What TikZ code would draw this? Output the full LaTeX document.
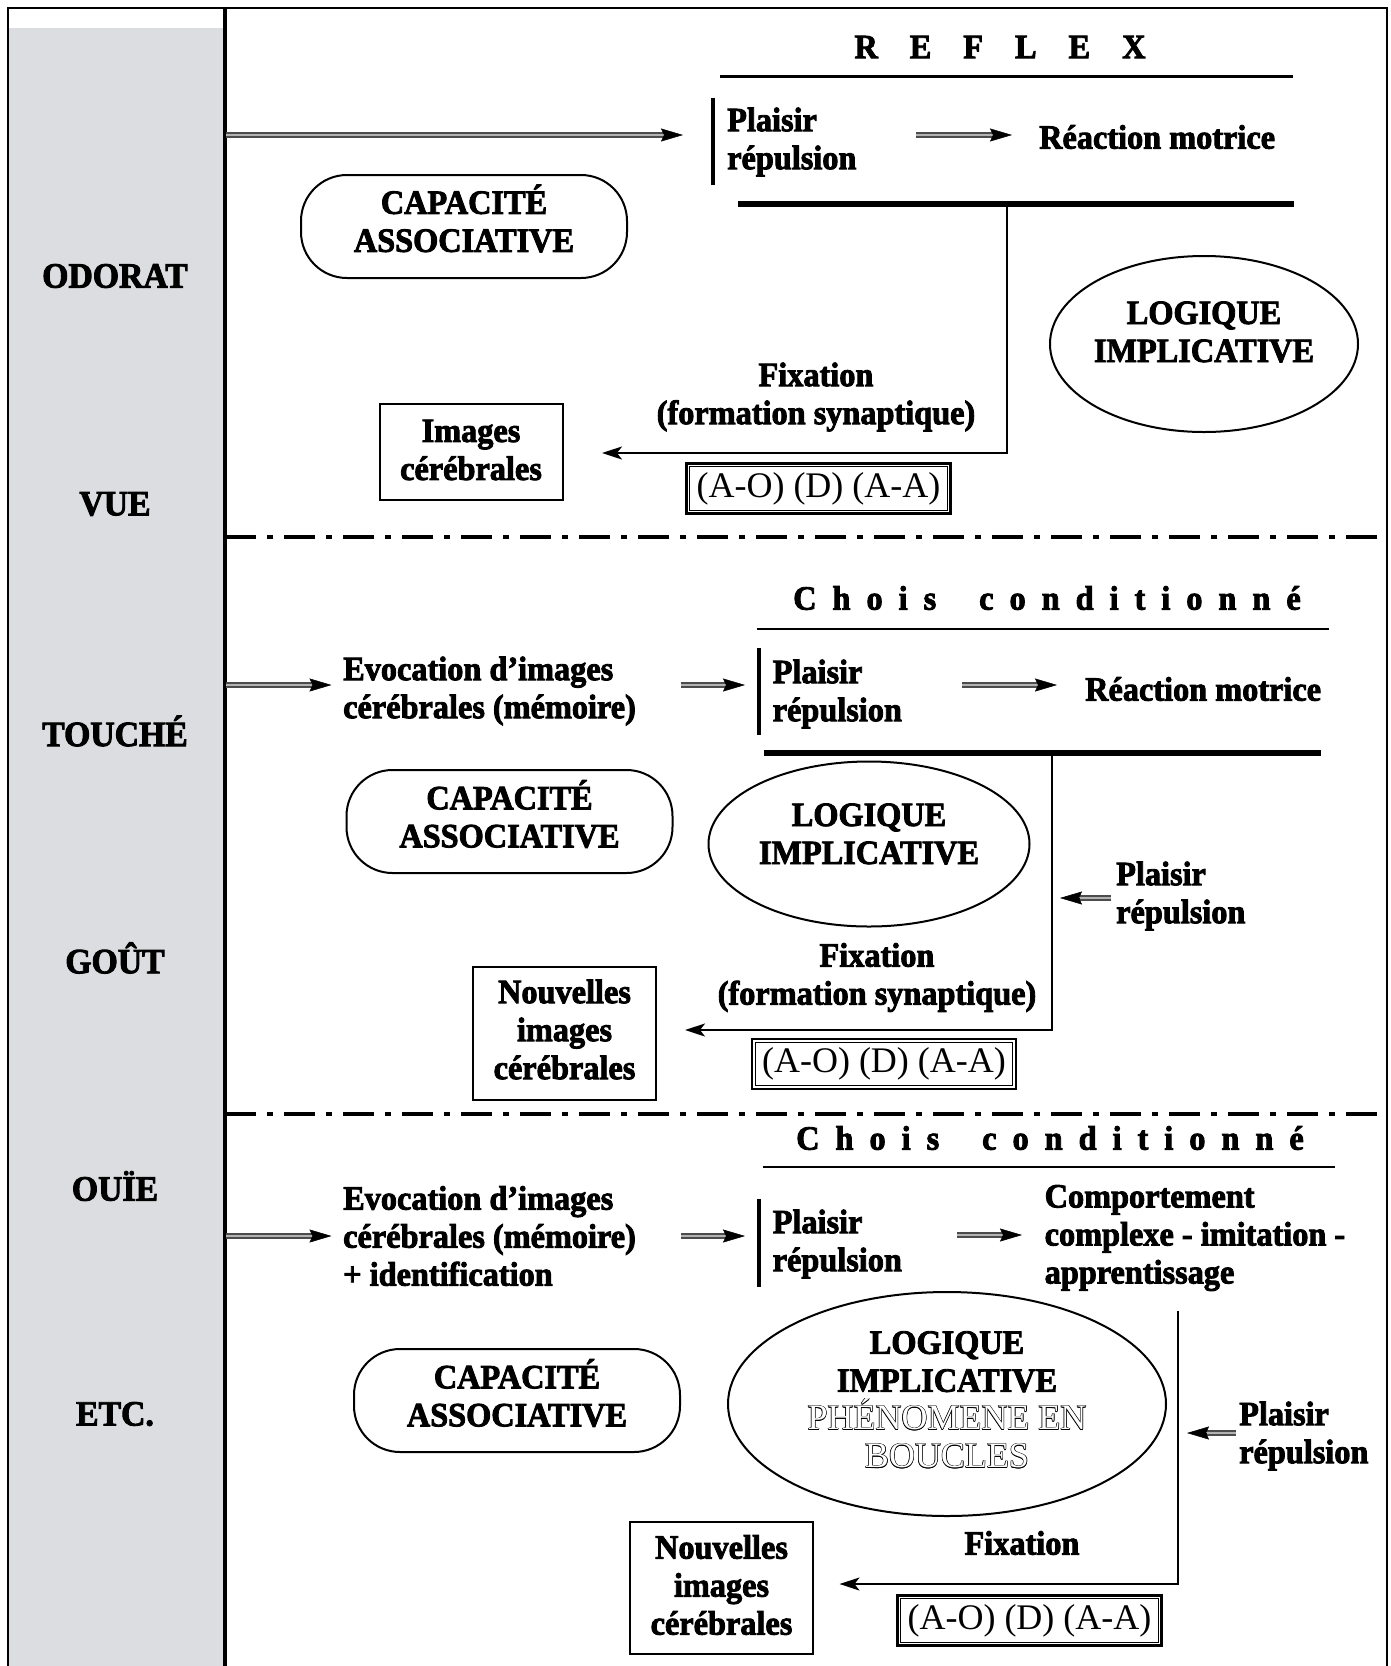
\documentclass[tikz,border=0pt]{standalone}
\usepackage{fontspec}
\newfontfamily\condfont[FakeStretch=0.95, BoldFeatures={FakeBold=2.5}]{Liberation Serif}
\newfontfamily\regfont{Liberation Serif}
\usetikzlibrary{arrows.meta,calc,shapes.geometric}
\definecolor{colgray}{RGB}{220,221,224}
\newsavebox\hollowbx
\newcommand\hollow[1]{\sbox\hollowbx{#1}%
  \rlap{\kern0.65pt\usebox\hollowbx}\rlap{\kern-0.65pt\usebox\hollowbx}%
  \rlap{\raisebox{0.65pt}{\usebox\hollowbx}}\rlap{\raisebox{-0.65pt}{\usebox\hollowbx}}%
  \rlap{\kern0.46pt\raisebox{0.46pt}{\usebox\hollowbx}}\rlap{\kern-0.46pt\raisebox{0.46pt}{\usebox\hollowbx}}%
  \rlap{\kern0.46pt\raisebox{-0.46pt}{\usebox\hollowbx}}\rlap{\kern-0.46pt\raisebox{-0.46pt}{\usebox\hollowbx}}%
  \textcolor{white}{#1}}
\newcommand\gp{\hspace{16pt}}
\newcommand\gw{\hspace{43pt}}
\newcommand\gr{\hspace{32pt}}
\newcommand\dblarrow[3]{%
  \draw[shaft] (#1) -- ($(#2)+({-17*(#3)},0)$);
  \draw[tipline] ($(#2)+({-19*(#3)},0)$) -- (#2);}

\begin{document}
\begin{tikzpicture}[x=1pt,y=-1pt,
  lbl/.style={font=\condfont\bfseries\fontsize{34}{38}\selectfont, inner sep=0pt},
  side/.style={font=\condfont\bfseries\fontsize{35.5}{38}\selectfont, inner sep=0pt},
  txtl/.style={lbl, align=left, anchor=west},
  txtc/.style={lbl, align=center},
  capbox/.style={draw, line width=2pt, rounded corners=46pt, minimum width=326pt, minimum height=103pt, inner sep=0pt},
  ellbox/.style={draw, ellipse, line width=2pt, inner sep=0pt},
  imgbox/.style={draw, line width=2pt, minimum width=183pt, inner sep=0pt},
  codebox/.style={font=\regfont\fontsize{36}{40}\selectfont, draw, line width=2.8pt, minimum width=264pt, minimum height=50pt, inner sep=0pt},
  innerframe/.style={line width=0.9pt},
  rulethin/.style={line width=2.5pt},
  ruleheavy/.style={line width=5.5pt},
  vbar/.style={line width=4.5pt},
  conn/.style={line width=2pt, -{Stealth[length=20pt,width=13pt,inset=5pt]}},
  shaft/.style={line width=1.5pt, draw=black!70, double=black!30, double distance=2.5pt},
  tipline/.style={line width=0.5pt, -{Stealth[length=22pt,width=13pt,inset=3pt]}},
  dashdot/.style={line width=4pt, dash pattern=on 31pt off 11pt on 6pt off 11pt}
]
\useasboundingbox (0,0) rectangle (1391,1666);
% frame and grey column
\fill[colgray] (8,28) rectangle (225,1666);
\draw[line width=2.5pt] (8,1666) -- (8,8) -- (1387,8) -- (1387,1666);
\draw[line width=4pt] (225,8) -- (225,1666);

% left labels
\node[side] (odorat) at (115,276) {ODORAT};
\node[side] (vue) at (115,504) {VUE};
\node[side] (touche) at (115,731) {TOUCHÉ};
\node[side] (gout) at (115,958) {GOÛT};
\node[side] (ouie) at (115,1186) {OUÏE};
\node[side] (etc) at (115,1414) {ETC.};

% separators
\coordinate (sepAl) at (225,537); \coordinate (sepAr) at (1387,537);
\coordinate (sepBl) at (225,1114); \coordinate (sepBr) at (1387,1114);
\draw[dashdot] (sepAl) -- (sepAr);
\draw[dashdot] (sepBl) -- (sepBr);

% ===== section 1 =====
\node[lbl] (reflex) at (1000,47) {R\gr E\gr F\gr L\gr E\gr X};
\draw[rulethin] (720,76.5) -- (1293,76.5);
\coordinate (a1s) at (226,135); \coordinate (a1e) at (683,135);
\dblarrow{a1s}{a1e}{1}
\draw[vbar] (713,98) -- (713,185);
\node[txtl] (pr1) at (727,142) {Plaisir\\répulsion};
\coordinate (b1s) at (916,135); \coordinate (b1e) at (1012,135);
\dblarrow{b1s}{b1e}{1}
\node[txtl] (rm1) at (1039,137) {Réaction motrice};
\draw[ruleheavy] (738,204) -- (1294,204);
\node[capbox] (cap1) at (464,226.5) {};
\node[txtc] (cap1t) at (464,218.5) {CAPACITÉ\\ASSOCIATIVE};
\node[ellbox, minimum width=308pt, minimum height=176pt] (ell1) at (1204,344) {};
\node[txtc] (ell1t) at (1204,332) {LOGIQUE\\IMPLICATIVE};
\node[txtc] (fix1) at (816,397) {Fixation\\(formation synaptique)};
\node[imgbox, minimum height=96pt] (img1) at (471,452) {};
\node[txtc] (img1t) at (471,450) {Images\\cérébrales};
\node[codebox] (code1) at (818.5,488.5) {(A-O) (D) (A-A)};
\draw[innerframe] ($(code1.north west)+(4.5,4.5)$) rectangle ($(code1.south east)+(-4.5,-4.5)$);
\coordinate (c1a) at (1007,204); \coordinate (c1b) at (602,453);
\draw[conn] (c1a) |- (c1b);

% ===== section 2 =====
\node[lbl] (choix1) at (1047,598) {C\gp h\gp o\gp i\gp s\gw c\gp o\gp n\gp d\gp i\gp t\gp i\gp o\gp n\gp n\gp é};
\draw[rulethin] (757,629) -- (1329,629);
\coordinate (a2s) at (226,685); \coordinate (a2e) at (331.5,685);
\dblarrow{a2s}{a2e}{1}
\node[txtl] (evo2) at (343,691) {Evocation d’images\\cérébrales (mémoire)};
\coordinate (b2s) at (681,685); \coordinate (b2e) at (745,685);
\dblarrow{b2s}{b2e}{1}
\draw[vbar] (759,648) -- (759,735);
\node[txtl] (pr2) at (772.5,694) {Plaisir\\répulsion};
\coordinate (d2s) at (962,685); \coordinate (d2e) at (1057,685);
\dblarrow{d2s}{d2e}{1}
\node[txtl] (rm2) at (1085,689) {Réaction motrice};
\draw[ruleheavy] (764,753) -- (1321,753);
\node[capbox] (cap2) at (509.5,821.5) {};
\node[txtc] (cap2t) at (509.5,814) {CAPACITÉ\\ASSOCIATIVE};
\node[ellbox, minimum width=321pt, minimum height=165pt] (ell2) at (869,844) {};
\node[txtc] (ell2t) at (869,834) {LOGIQUE\\IMPLICATIVE};
\coordinate (p2s) at (1111,898); \coordinate (p2e) at (1060,898);
\dblarrow{p2s}{p2e}{-1}
\node[txtl] (pr2b) at (1116,896) {Plaisir\\répulsion};
\node[txtc] (fix2) at (877,977.5) {Fixation\\(formation synaptique)};
\node[imgbox, minimum height=133pt] (nouv2) at (564.5,1033.5) {};
\node[txtc] (nouv2t) at (564.5,1029.5) {Nouvelles\\images\\cérébrales};
\node[codebox] (code2) at (884,1064) {(A-O) (D) (A-A)};
\draw[innerframe] ($(code2.north west)+(4.5,4.5)$) rectangle ($(code2.south east)+(-4.5,-4.5)$);
\coordinate (c2a) at (1052,753); \coordinate (c2b) at (685,1030);
\draw[conn] (c2a) |- (c2b);

% ===== section 3 =====
\node[lbl] (choix2) at (1050,1138) {C\gp h\gp o\gp i\gp s\gw c\gp o\gp n\gp d\gp i\gp t\gp i\gp o\gp n\gp n\gp é};
\draw[rulethin] (763,1167) -- (1335,1167);
\coordinate (a3s) at (226,1236); \coordinate (a3e) at (331.5,1236);
\dblarrow{a3s}{a3e}{1}
\node[txtl] (evo3) at (343,1236) {Evocation d’images\\cérébrales (mémoire)\\+ identification};
\coordinate (b3s) at (681,1236); \coordinate (b3e) at (745,1236);
\dblarrow{b3s}{b3e}{1}
\draw[vbar] (759,1199) -- (759,1287);
\node[txtl] (pr3) at (772.5,1244) {Plaisir\\répulsion};
\coordinate (d3s) at (957,1235); \coordinate (d3e) at (1022,1235);
\dblarrow{d3s}{d3e}{1}
\node[txtl] (comp3) at (1044.5,1238) {Comportement\\complexe - imitation -\\apprentissage};
\node[capbox] (cap3) at (517,1400.5) {};
\node[txtc] (cap3t) at (517,1393) {CAPACITÉ\\ASSOCIATIVE};
\node[ellbox, minimum width=438pt, minimum height=224pt] (ell3) at (947,1404) {};
\node[txtc] (ell3t) at (947,1400) {LOGIQUE\\IMPLICATIVE\\{\regfont\mdseries\fontsize{36}{38}\selectfont\hollow{PHÉNOMENE EN}}\\{\regfont\mdseries\fontsize{36}{38}\selectfont\hollow{BOUCLES}}};
\coordinate (p3s) at (1236,1433); \coordinate (p3e) at (1187,1433);
\dblarrow{p3s}{p3e}{-1}
\node[txtl] (pr3b) at (1239,1436) {Plaisir\\répulsion};
\node[lbl] (fix3) at (1022,1543) {Fixation};
\node[imgbox, minimum height=132pt] (nouv3) at (721.5,1588) {};
\node[txtc] (nouv3t) at (721.5,1585) {Nouvelles\\images\\cérébrales};
\node[codebox] (code3) at (1029.5,1620.5) {(A-O) (D) (A-A)};
\draw[innerframe] ($(code3.north west)+(4.5,4.5)$) rectangle ($(code3.south east)+(-4.5,-4.5)$);
\coordinate (c3a) at (1178,1311); \coordinate (c3b) at (839.5,1584);
\draw[conn] (c3a) |- (c3b);
\end{tikzpicture}
\end{document}
